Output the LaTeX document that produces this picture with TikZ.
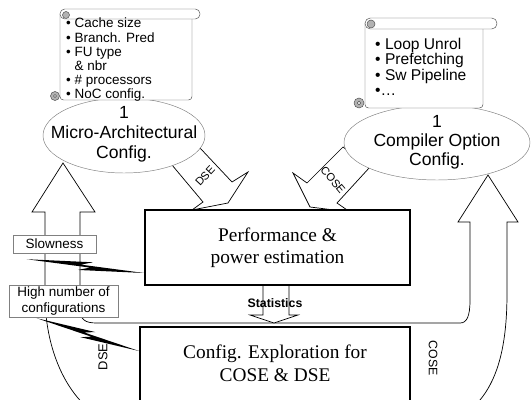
\documentclass[tikz,border=0pt]{standalone}
\usepackage{fontspec}
\setmainfont{Liberation Serif}
\setsansfont{Liberation Sans}
\usetikzlibrary{shapes,calc,positioning}

\newcommand{\zapline}[2]{%
  \fill (#1) -- ($(#1)!0.56!(#2)!4pt!90:(#2)$) -- ($(#1)!0.46!(#2)!0.8pt!90:(#2)$) -- (#2)
    -- ($(#1)!0.44!(#2)!4pt!-90:(#2)$) -- ($(#1)!0.54!(#2)!0.8pt!-90:(#2)$) -- cycle;}

\begin{document}
\begin{tikzpicture}[x=0.03cm,y=-0.03cm,
    every node/.style={font=\sffamily},
    box/.style={draw, line width=1.7pt, fill=white, inner sep=0pt},
    tag/.style={draw=gray, fill=white, inner sep=0pt, align=center, font=\sffamily\fontsize{11.5}{13}\selectfont},
    cfg/.style={ellipse, draw=gray, fill=white, inner sep=0pt},
    scrl/.style={draw=black!70, fill=white},
    curl/.style={draw=black!70, fill=black!30},
    blk/.style={draw, fill=white, line width=0.6pt}]
  \clip (0,0) rectangle (531,400);

  % loops back to the configurations
  \draw[blk] (63,163) -- (95,212) -- (80,212) -- (80,308) .. controls (80,320) and (85,323) .. (97,323)
    -- (460,323) .. controls (467,323) and (470,316) .. (470,300) -- (470,222) -- (458,222) -- (488,175)
    -- (518,222) -- (507,222) -- (507,293) .. controls (507,340) and (500,385) .. (470,410)
    -- (90,410) .. controls (60,385) and (45,340) .. (45,295) -- (45,212) -- (32,212) -- cycle;
  \node[rotate=90, font=\sffamily\fontsize{11}{11}\selectfont] (dseloop) at (103,357) {DSE};
  \node[rotate=-90, font=\sffamily\fontsize{10.5}{10.5}\selectfont] (coseloop) at (433,358) {COSE};

  \draw[blk] (263,285) -- (263,315) -- (250,315) -- (274,323) -- (298,315) -- (289,315) -- (289,285);
  \draw[blk] (200,148) -- (172,165) -- (203,202) -- (192,210) -- (228,203) -- (248,172) -- (232,182) -- cycle;
  \draw[blk] (343,147) -- (370,167) -- (337,203) -- (350,212) -- (310,207) -- (293,173) -- (307,183) -- cycle;
  \node[rotate=47, font=\sffamily\fontsize{9.5}{9.5}\selectfont] (dse) at (205,176) {DSE};
  \node[rotate=-50, font=\sffamily\fontsize{9.5}{9.5}\selectfont] (cose) at (333,180) {COSE};

  \node[box, minimum width=8.1cm, minimum height=3.09cm] (explo) at (275,378.5) {};
  \node[font=\rmfamily\fontsize{16.5}{19.5}\selectfont, align=center] (explotxt) at (275,363.5) {Config. Exploration for\\COSE \& DSE};
  \node[box, minimum width=7.95cm, minimum height=2.25cm, align=center,
    font=\rmfamily\fontsize{16.5}{19}\selectfont] (perf) at (277.5,247.5) {Performance \&\\power estimation};
  \node[font=\sffamily\bfseries\fontsize{10.5}{10.5}\selectfont] (stat) at (275,303) {Statistics};

  % the two configuration sets
  \node[cfg, minimum width=4.86cm, minimum height=2.25cm] (micro) at (124,135.5) {};
  \node[align=center, font=\sffamily\fontsize{15}{17}\selectfont] (microtxt) at ($(micro)+(0,-1)$) {1\\Micro-Architectural\\Config.};
  \node[cfg, minimum width=5.58cm, minimum height=2.25cm] (comp) at (437,142.5) {};
  \node[align=center, font=\sffamily\fontsize{15}{16}\selectfont] (comptxt) at (comp) {1\\Compiler Option\\Config.};

  \draw[scrl, rounded corners=3pt] (60,14) -- (60,100) -- (192,100) -- (192,14);
  \draw[scrl, rounded corners=4pt] (60,9) rectangle (200,19);
  \draw[curl] (66,15) circle (3.5);
  \draw[curl] (55,96) circle (4.5);
  \draw[scrl] (55,96) circle (1.5);
  \draw[scrl, rounded corners=3pt] (365,23) -- (365,108) -- (483,108) -- (483,23);
  \draw[scrl, rounded corners=4.5pt] (365,18) rectangle (497,29);
  \draw[curl] (371,24) circle (4);
  \draw[curl] (359,103) circle (5);
  \draw[scrl] (359,103) circle (1.7);

  \node[anchor=north west, align=left, inner sep=0pt, font=\sffamily\fontsize{11.5}{12}\selectfont] (archlist) at (66,18)
    {\textbullet\ Cache size\\ \textbullet\ Branch. Pred\\ \textbullet\ FU type\\ \phantom{\textbullet\ }\& nbr\\
     \textbullet\ \# processors\\ \textbullet\ NoC config.};
  \node[anchor=north west, align=left, inner sep=0pt, font=\sffamily\fontsize{13.3}{13.2}\selectfont] (optlist) at (375,38)
    {\textbullet\ Loop Unrol\\ \textbullet\ Prefetching\\ \textbullet\ Sw Pipeline\\ \textbullet…};

  % what goes wrong
  \node[tag, minimum width=2.49cm, minimum height=0.54cm] (slow) at (54.5,244) {Slowness};
  \node[tag, minimum width=3.27cm, minimum height=0.96cm] (many) at (63.5,301) {High number of\\configurations};
  \coordinate (z1s) at ($(slow.south west)+(14,6)$);
  \coordinate (z1e) at ($(perf.south west)+(0,-13)$);
  \coordinate (z2s) at ($(many.south west)+(28,1)$);
  \coordinate (z2e) at ($(explo.north west)+(0,25)$);
  \zapline{z1s}{z1e}
  \zapline{z2s}{z2e}
\end{tikzpicture}
\end{document}
